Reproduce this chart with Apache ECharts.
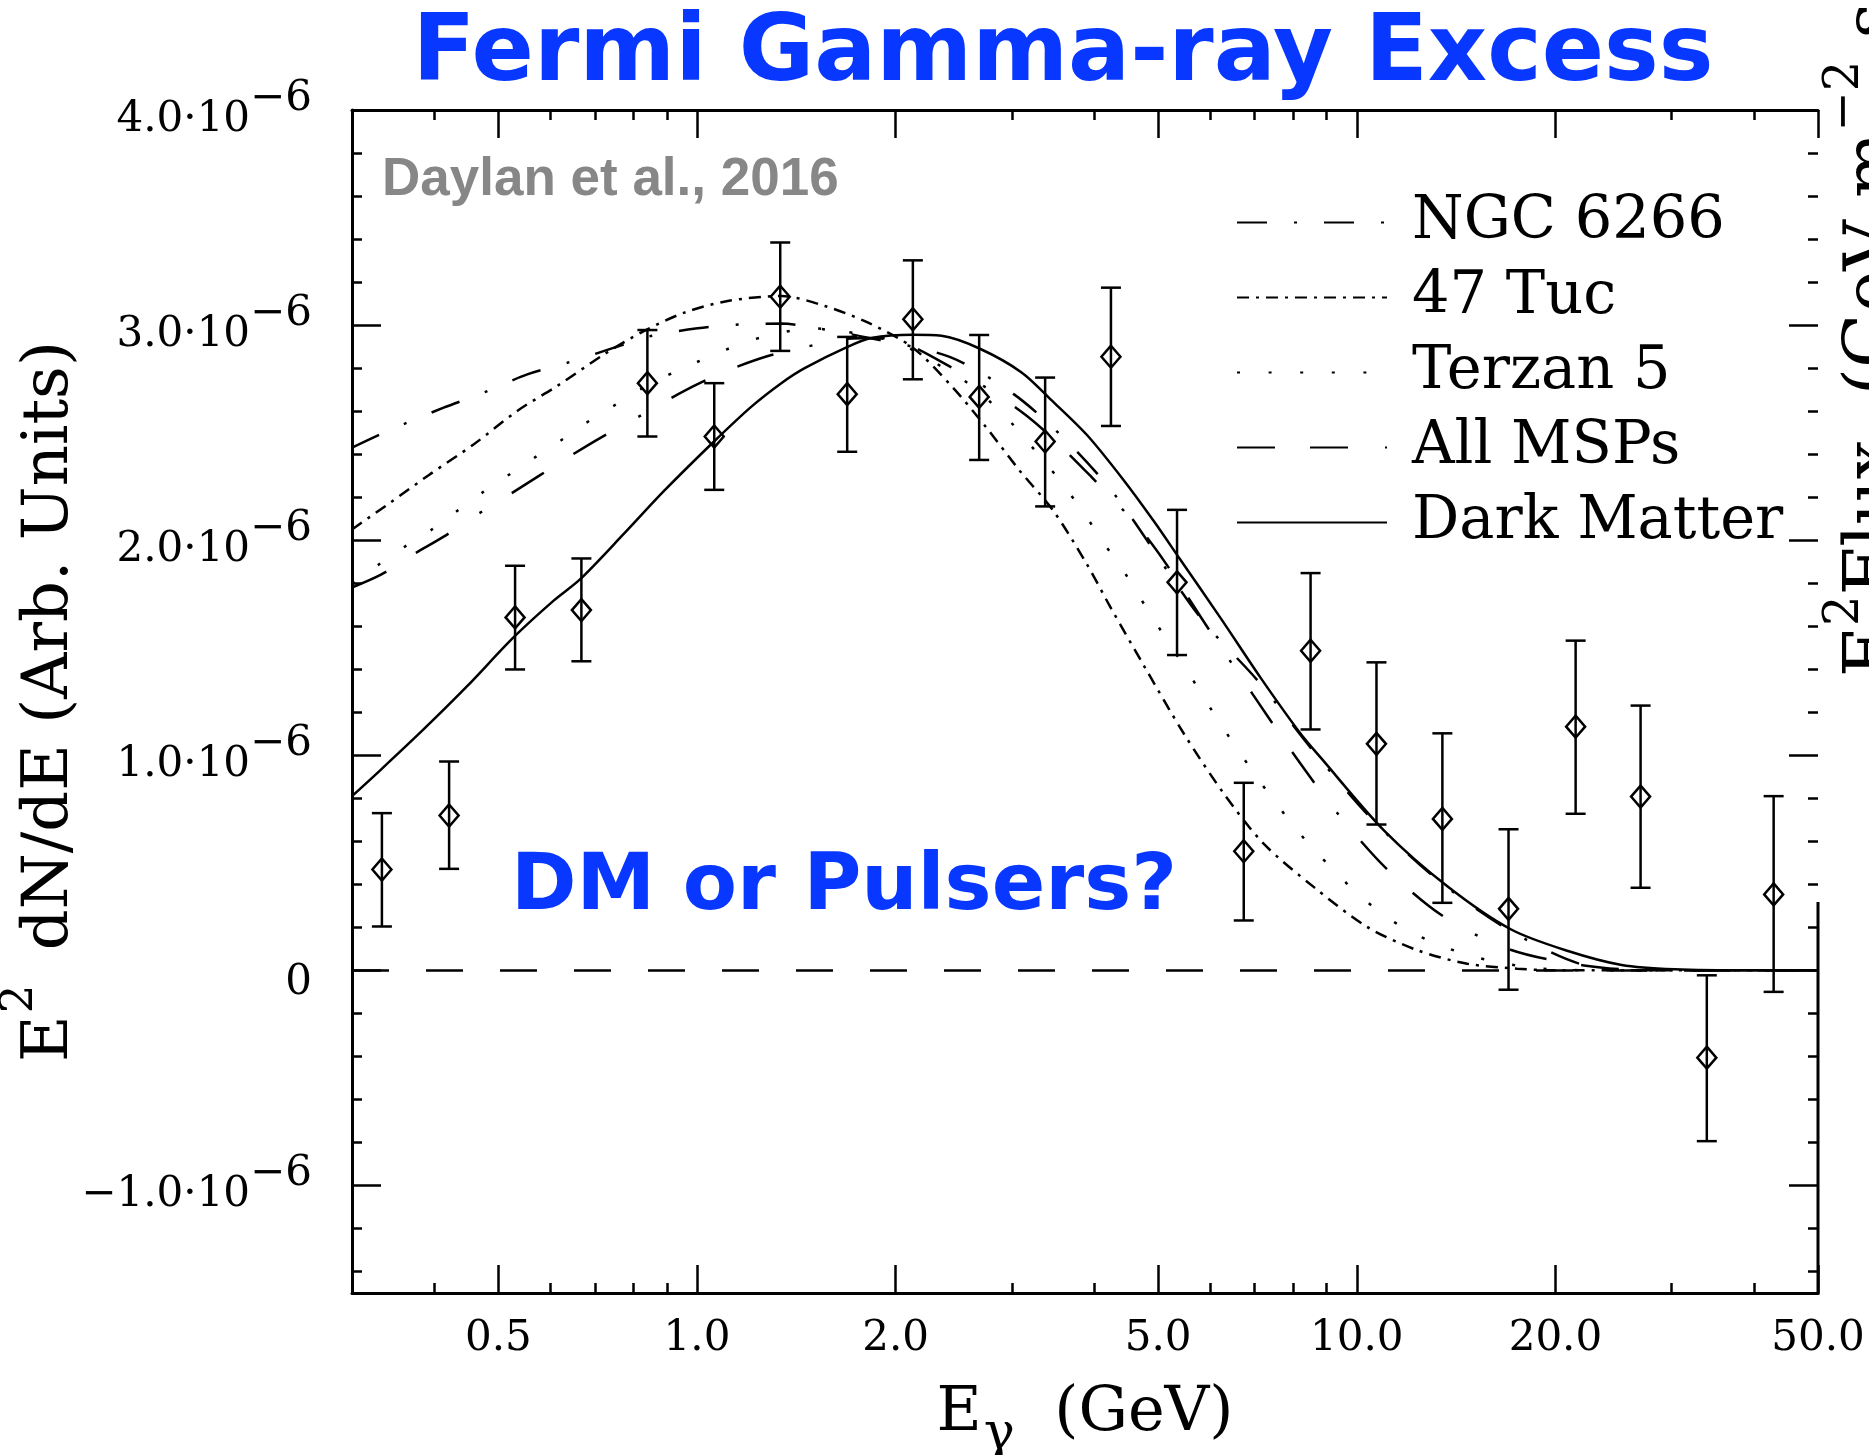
<!DOCTYPE html>
<html>
<head>
<meta charset="utf-8">
<script src="https://cdn.jsdelivr.net/npm/echarts@6/dist/echarts.min.js"></script>
<style>
html,body{margin:0;padding:0;background:#fff;}
#chart{width:1869px;height:1455px;}
</style>
</head>
<body>
<div id="chart"></div>
<script>
// ---------------- data (flux in units of 1e-6) ----------------
const energy   = [0.333,0.421,0.530,0.668,0.841,1.062,1.337,1.689,2.124,2.677,3.37,4.24,5.34,6.74,8.51,10.71,13.48,16.98,21.46,26.92,33.92,42.83];
const flux     = [0.469,0.720,1.641,1.675,2.730,2.482,3.132,2.679,3.027,2.666,2.459,2.853,1.804,0.554,1.486,1.053,0.704,0.286,1.133,0.808,-0.406,0.353];
const fluxLow  = [0.204,0.472,1.399,1.437,2.482,2.234,2.880,2.411,2.748,2.373,2.157,2.531,1.466,0.232,1.120,0.678,0.314,-0.090,0.728,0.384,-0.794,-0.100];
const fluxHigh = [0.731,0.971,1.881,1.915,2.977,2.730,3.384,2.945,3.301,2.954,2.756,3.174,2.141,0.872,1.847,1.432,1.102,0.656,1.533,1.231,-0.023,0.810];

const dmE    = [0.30,0.331,0.385,0.448,0.528,0.607,0.666,0.775,0.892,1.062,1.208,1.342,1.456,1.694,1.838,2.124,2.347,2.684,3.104,3.448,3.897,4.43,4.92,5.40,6.21,7.15,8.22,8.81,11.0,13.73,17.14,20.9,25.2,30.3,40,50];
const dmFlux = [0.81,0.93,1.12,1.32,1.55,1.72,1.82,2.03,2.23,2.46,2.62,2.73,2.80,2.90,2.94,2.955,2.95,2.89,2.78,2.65,2.49,2.28,2.09,1.91,1.64,1.36,1.10,0.99,0.65,0.39,0.19,0.09,0.025,0.005,0,0];

const tucE    = [0.30,0.343,0.394,0.459,0.534,0.614,0.723,0.832,0.957,1.113,1.342,1.562,1.817,2.124,2.443,2.746,3.086,3.467,3.897,4.23,4.75,5.47,6.29,7.23,8.61,10.38,12.37,14.7,17.5,20,50];
const tucFlux = [2.05,2.175,2.307,2.446,2.601,2.717,2.864,2.973,3.058,3.112,3.135,3.089,3.011,2.895,2.709,2.523,2.322,2.137,1.889,1.69,1.42,1.10,0.821,0.588,0.387,0.201,0.093,0.031,0.008,0,0];

const terE    = [0.30,0.327,0.359,0.394,0.430,0.469,0.513,0.563,0.618,0.674,0.740,0.813,0.892,0.991,1.094,1.208,1.342,1.490,1.655,2.0,2.25,2.6,2.945,3.16,3.39,3.63,3.87,4.11,4.38,4.64,4.92,5.22,5.53,5.86,6.21,6.59,7.02,7.49,8.01,8.61,9.29,10.02,10.94,11.94,13.19,14.64,16.27,18.17,20.3,25,50];
const terFlux = [1.80,1.88,1.966,2.044,2.129,2.214,2.294,2.377,2.458,2.539,2.616,2.694,2.759,2.823,2.88,2.929,2.965,2.985,2.973,2.92,2.84,2.72,2.57,2.462,2.353,2.237,2.121,1.997,1.881,1.757,1.633,1.51,1.393,1.27,1.146,1.03,0.906,0.79,0.673,0.561,0.457,0.356,0.263,0.186,0.124,0.074,0.039,0.015,0.003,0,0];

const ngcE    = [0.30,0.323,0.359,0.413,0.475,0.553,0.636,0.749,0.851,1.002,1.166,1.342,1.525,1.826,2.415,3.02,3.63,4.33,5.79,7.10,8.58,10.5,13.19,16.79,21.9,28,50];
const ngcFlux = [2.43,2.477,2.539,2.616,2.686,2.771,2.825,2.895,2.949,2.985,3.003,3.007,2.985,2.94,2.852,2.679,2.462,2.198,1.641,1.342,1.022,0.709,0.426,0.198,0.028,0,0];

const mspE    = [0.30,0.333,0.372,0.415,0.461,0.516,0.576,0.643,0.715,0.803,0.897,1.002,1.126,1.281,1.447,1.655,1.9,2.45,3.17,3.97,4.86,6.01,6.96,8.05,9.38,11.13,13.57,17.1,22.1,28,50];
const mspFlux = [1.78,1.842,1.935,2.02,2.113,2.206,2.299,2.392,2.477,2.562,2.647,2.725,2.795,2.856,2.895,2.934,2.94,2.797,2.575,2.291,1.994,1.571,1.282,0.999,0.725,0.468,0.248,0.096,0.023,0,0];

// ---------------- ticks & labels ----------------
const xRange = [0.3, 50];
const xMajor = [0.5, 1, 2, 5, 10, 20, 50];
const xMajorLabels = ['0.5', '1.0', '2.0', '5.0', '10.0', '20.0', '50.0'];
const xMinor = [0.4, 0.6, 0.7, 0.8, 0.9, 3, 4, 6, 7, 8, 9, 30, 40];
const yRange = [-1.5, 4];
const yMajor = [-1, 0, 1, 2, 3, 4];
const yMajorLabels = ['{b|−1.0·10}{s|−6}', '{z|0}', '{b|1.0·10}{s|−6}', '{b|2.0·10}{s|−6}', '{b|3.0·10}{s|−6}', '{b|4.0·10}{s|−6}'];
const yMinor = [-1.4,-1.2,-0.8,-0.6,-0.4,-0.2,0.2,0.4,0.6,0.8,1.2,1.4,1.6,1.8,2.2,2.4,2.6,2.8,3.2,3.4,3.6,3.8];
const legendNames = ['NGC 6266', '47 Tuc', 'Terzan 5', 'All MSPs', 'Dark Matter'];

// ---------------- build ----------------
const LX = v => Math.log10(v);
const pairs = (xs, ys) => xs.map((x, i) => [LX(x), ys[i]]);
const SERIF = 'DejaVu Serif';
const BLUE = '#0838ff';
const lineW = 2.5;

function xAxisDef(pos, major, showLine) {
  const vals = (major ? xMajor : xMinor).map(LX);
  return {
    type: 'value', position: pos, min: LX(xRange[0]), max: LX(xRange[1]),
    axisLine: {show: showLine, onZero: false, lineStyle: {color: '#000', width: 3}},
    axisTick: {show: true, inside: true, length: major ? 28 : 10, customValues: vals, lineStyle: {color: '#000', width: lineW}},
    axisLabel: {show: false},
    splitLine: {show: false}
  };
}
function yAxisDef(pos, major) {
  const vals = major ? yMajor : yMinor;
  return {
    type: 'value', position: pos, min: yRange[0], max: yRange[1],
    axisLine: {show: pos === 'left' && major, onZero: false, lineStyle: {color: '#000', width: 3}},
    axisTick: {show: true, inside: true, length: major ? 29 : 10, customValues: vals, lineStyle: {color: '#000', width: lineW}},
    axisLabel: {show: false},
    splitLine: {show: false}
  };
}

const xMain = xAxisDef('bottom', true, true);
xMain.axisLabel = {
  show: true, customValues: xMajor.map(LX),
  formatter: v => { const i = xMajor.findIndex(t => Math.abs(LX(t) - v) < 1e-6); return i >= 0 ? xMajorLabels[i] : ''; },
  fontFamily: SERIF, fontSize: 42, lineHeight: 42, color: '#000', margin: 25
};
xMain.name = '{e|E}{g|γ}{e|  (GeV)}';
xMain.nameLocation = 'middle';
xMain.nameGap = 90;
xMain.nameMoveOverlap = false;
xMain.nameTextStyle = {
  fontFamily: SERIF, color: '#000',
  rich: {
    e: {fontFamily: SERIF, fontSize: 62, lineHeight: 62, color: '#000', verticalAlign: 'top'},
    g: {fontFamily: SERIF, fontSize: 52, lineHeight: 52, color: '#000', verticalAlign: 'top', padding: [26, 0, 0, 2]}
  }
};

const yMain = yAxisDef('left', true);
yMain.axisLabel = {
  show: true, customValues: yMajor, margin: 40, padding: [0, 0, 22, 0],
  formatter: v => { const i = yMajor.findIndex(t => Math.abs(t - v) < 1e-6); return i >= 0 ? yMajorLabels[i] : ''; },
  rich: {
    b: {fontFamily: SERIF, fontSize: 42, lineHeight: 42, color: '#000', verticalAlign: 'top', padding: [21, 0, 0, 0]},
    s: {fontFamily: SERIF, fontSize: 42, lineHeight: 42, color: '#000', verticalAlign: 'top'},
    z: {fontFamily: SERIF, fontSize: 42, lineHeight: 42, color: '#000', verticalAlign: 'top', padding: [24, 0, 0, 0]}
  }
};
yMain.name = '{b|E}{s|2}{b| dN/dE (Arb. Units)}';
yMain.nameLocation = 'middle';
yMain.nameRotate = 90;
yMain.nameGap = 290;
yMain.nameMoveOverlap = false;
yMain.nameTextStyle = {
  fontFamily: SERIF, color: '#000',
  rich: {
    b: {fontFamily: SERIF, fontSize: 64, lineHeight: 64, color: '#000', verticalAlign: 'top', padding: [20, 0, 0, 0]},
    s: {fontFamily: SERIF, fontSize: 45, lineHeight: 45, color: '#000', verticalAlign: 'top', padding: [0, 14, 0, 2]}
  }
};

function curve(name, xs, ys, dash) {
  return {
    name: name, type: 'line', xAxisIndex: 0, yAxisIndex: 0,
    data: pairs(xs, ys), showSymbol: false, symbol: 'none', smooth: 0.3,
    lineStyle: {color: '#000', width: lineW, type: dash},
    itemStyle: {color: '#000'},
    silent: true, z: 3
  };
}

const option = {
  animation: false,
  backgroundColor: '#ffffff',
  grid: {left: 352, right: 51, top: 110, bottom: 162, containLabel: false, outerBoundsMode: 'none'},
  xAxis: [xMain, xAxisDef('bottom', false, false), xAxisDef('top', true, true), xAxisDef('top', false, false)],
  yAxis: [yMain, yAxisDef('left', false), yAxisDef('right', true), yAxisDef('right', false)],
  legend: {
    orient: 'vertical', left: 1231, top: 188,
    itemWidth: 150, itemHeight: 20, itemGap: 16,
    data: legendNames,
    itemStyle: {color: 'rgba(0,0,0,0)', borderColor: 'rgba(0,0,0,0)', borderWidth: 0, opacity: 0},
    textStyle: {fontFamily: SERIF, fontSize: 59, lineHeight: 59, color: '#000', padding: [0, 0, 0, 20]},
    selectedMode: false
  },
  series: [
    curve('NGC 6266', ngcE, ngcFlux, [30, 27, 3, 27]),
    curve('47 Tuc', tucE, tucFlux, [12, 7, 3, 7]),
    curve('Terzan 5', terE, terFlux, [3, 28.6]),
    curve('All MSPs', mspE, mspFlux, [38, 35, 38, 37, 3, 35]),
    curve('Dark Matter', dmE, dmFlux, 'solid'),
    {
      name: 'Data', type: 'custom', xAxisIndex: 0, yAxisIndex: 0, z: 5, silent: true,
      data: energy.map((e, i) => [LX(e), flux[i], fluxLow[i], fluxHigh[i]]),
      encode: {x: 0, y: [1, 2, 3]},
      renderItem: function (params, api) {
        const x = api.value(0);
        const p = api.coord([x, api.value(1)]);
        const lo = api.coord([x, api.value(2)]);
        const hi = api.coord([x, api.value(3)]);
        const st = {stroke: '#000', lineWidth: lineW, fill: null};
        const hw = 10, dw = 9.5, dh = 11;
        return {
          type: 'group',
          children: [
            {type: 'line', shape: {x1: p[0], y1: hi[1], x2: p[0], y2: lo[1]}, style: st},
            {type: 'line', shape: {x1: p[0] - hw, y1: hi[1], x2: p[0] + hw, y2: hi[1]}, style: st},
            {type: 'line', shape: {x1: p[0] - hw, y1: lo[1], x2: p[0] + hw, y2: lo[1]}, style: st},
            {type: 'polygon', shape: {points: [[p[0], p[1] - dh], [p[0] + dw, p[1]], [p[0], p[1] + dh], [p[0] - dw, p[1]]]},
             style: {stroke: '#000', lineWidth: lineW, fill: 'rgba(0,0,0,0)'}}
          ]
        };
      },
      markLine: {
        silent: true, symbol: ['none', 'none'], label: {show: false},
        lineStyle: {color: '#000', width: lineW, type: [37, 37]},
        emphasis: {disabled: true},
        data: [{yAxis: 0}]
      }
    }
  ],
  graphic: [
    {type: 'text', x: 1063, y: 56, silent: true, z: 20,
     style: {text: 'Fermi Gamma-ray Excess', fill: BLUE, fontFamily: 'DejaVu Sans', fontWeight: 'bold', fontSize: 92, align: 'center', verticalAlign: 'middle'}},
    {type: 'text', x: 844, y: 888, silent: true, z: 20,
     style: {text: 'DM or Pulsers?', fill: BLUE, fontFamily: 'DejaVu Sans', fontWeight: 'bold', fontSize: 79, align: 'center', verticalAlign: 'middle'}},
    {type: 'text', x: 382, y: 180, silent: true, z: 20,
     style: {text: 'Daylan et al., 2016', fill: '#878787', fontFamily: '"Liberation Sans", Arial, sans-serif', fontWeight: 'bold', fontSize: 53, align: 'left', verticalAlign: 'middle'}},
    {type: 'text', x: 1892, y: 677, rotation: Math.PI / 2, silent: true, z: 20,
     style: {text: '{b|E}{s|2}{b|Flux  (GeV m}{s|−2}{b| s}{s|−1}{b|)}', align: 'left', verticalAlign: 'bottom',
       rich: {
         b: {fontFamily: SERIF, fontSize: 70, lineHeight: 70, fill: '#000', verticalAlign: 'top', padding: [18, 0, 0, 0]},
         s: {fontFamily: SERIF, fontSize: 48, lineHeight: 48, fill: '#000', verticalAlign: 'top'}
       }}},
    {type: 'line', silent: true, z: 20, shape: {x1: 1818, y1: 902, x2: 1818, y2: 1294.5}, style: {stroke: '#000', lineWidth: 3}}
  ]
};

const chart = echarts.init(document.getElementById('chart'), null, {renderer: 'canvas'});
chart.setOption(option);
</script>
</body>
</html>
